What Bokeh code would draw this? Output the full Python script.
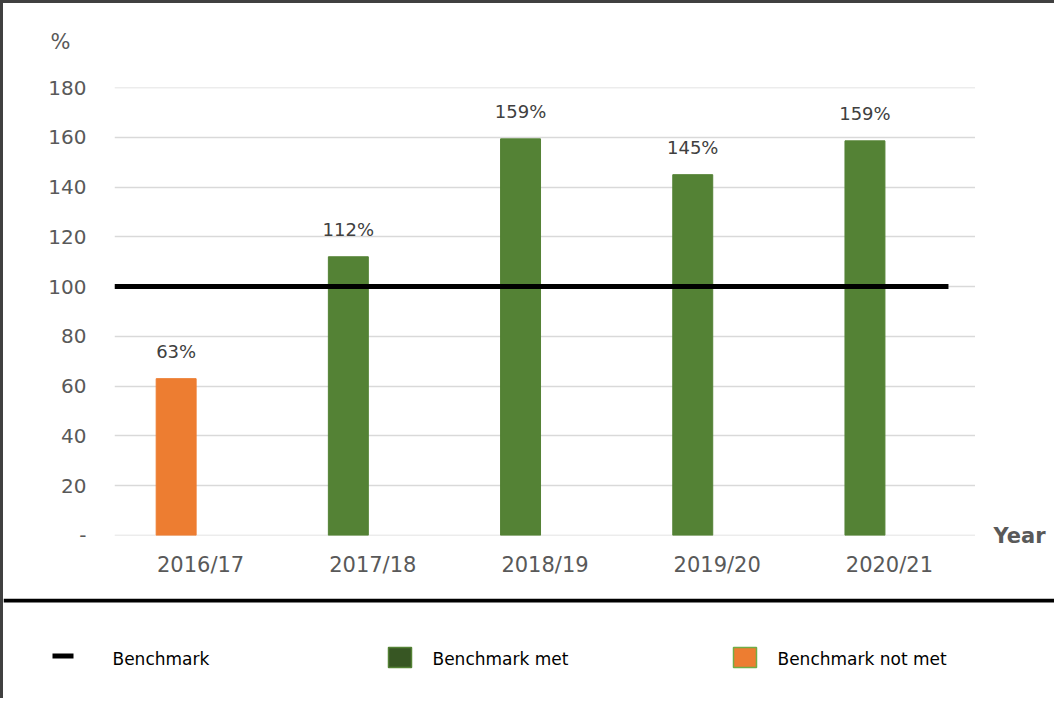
from bokeh.plotting import figure
from bokeh.layouts import column, row
from bokeh.models import (ColumnDataSource, Label, BoxAnnotation, FixedTicker,
                          Range1d, FactorRange)
from bokeh.transform import dodge
from bokeh.core.properties import value
from bokeh.embed import file_html
from bokeh.resources import INLINE

# ---- data ----
years = ["2016/17", "2017/18", "2018/19", "2019/20", "2020/21"]
values = [63, 112, 159.4, 145, 158.6]
benchmark = 100
y_ticks = [0, 20, 40, 60, 80, 100, 120, 140, 160, 180]
y_title = "%"
x_title = "Year"
legend_labels = ["Benchmark", "Benchmark met", "Benchmark not met"]

MET = "#548235"
NOT_MET = "#ED7D31"
FONT = "DejaVu Sans"
GREY = "#595959"
W = 1051          # total inner width (page 3 .. 1054)
PW = 972          # chart figure width (page 3 .. 975)

colors = [MET if v >= benchmark else NOT_MET for v in values]
labels = [f"{round(v)}%" for v in values]
src = ColumnDataSource(dict(year=years, value=values, color=colors, label=labels))


def strip(w, h):
    f = figure(width=w, height=h, x_range=Range1d(0, w), y_range=Range1d(h, 0),
               x_axis_type=None, y_axis_type=None, output_backend="svg",
               toolbar_location=None, min_border=0)
    f.frame_align = False
    f.outline_line_color = None
    f.xgrid.visible = False
    f.ygrid.visible = False
    f.background_fill_color = "white"
    f.border_fill_color = "white"
    return f


def label(f, x, y, text, **kw):
    f.add_layout(Label(x=x, y=y, x_units="canvas", y_units="canvas", text=text,
                       text_font=FONT, text_baseline="middle", **kw))


def box(f, l, t, r, b, **kw):
    f.add_layout(BoxAnnotation(left=l, right=r, top=t, bottom=b,
                               left_units="canvas", right_units="canvas",
                               top_units="canvas", bottom_units="canvas", **kw))


# ---------------- top strip with the "%" title ----------------
t = strip(W, 64)
label(t, 47, 38, y_title, text_font_size="21px", text_color=GREY)

# ---------------- chart ----------------
p = figure(x_range=FactorRange(*years), y_range=Range1d(-0.05, 180.05),
           width=PW, height=531, output_backend="svg", toolbar_location=None,
           min_border_left=111, min_border_right=0, min_border_top=20,
           min_border_bottom=63)
p.frame_align = False
p.outline_line_color = None
p.background_fill_color = "white"
p.border_fill_color = "white"

p.xgrid.grid_line_color = None
p.ygrid.ticker = FixedTicker(ticks=y_ticks)
p.ygrid.grid_line_color = "#d9d9d9"
p.ygrid.grid_line_width = 1.5

p.yaxis.ticker = FixedTicker(ticks=y_ticks)
p.yaxis.major_label_overrides = {0: "-"}
for ax in (p.xaxis, p.yaxis):
    ax.axis_line_color = None
    ax.major_tick_line_color = None
    ax.minor_tick_line_color = None
    ax.major_tick_out = 0
    ax.major_label_text_font = FONT
    ax.major_label_text_color = GREY
p.yaxis.major_label_text_font_size = "20px"
p.yaxis.major_label_standoff = 28
p.xaxis.major_label_text_font_size = "21px"
p.xaxis.major_label_standoff = 17

# bars
xb = dodge("year", -0.142, range=p.x_range)
p.vbar(x=xb, top="value", width=0.232, color="color", source=src)

# value labels
p.text(x=xb, y="value", text="label", source=src, text_align="center",
       text_baseline="bottom", y_offset=-17, text_font=value(FONT),
       text_font_size="18px", text_color="#404040")

# benchmark line
bsrc = ColumnDataSource(dict(x0=[years[0]], x1=[years[-1]], y=[benchmark]))
p.segment(x0=dodge("x0", -0.5, range=p.x_range), x1=dodge("x1", 0.343, range=p.x_range),
          y0="y", y1="y", source=bsrc, line_color="black", line_width=5)

# ---------------- right strip with the "Year" title ----------------
r = strip(W - PW, 531)
label(r, 18, 468, x_title, text_font_size="21px", text_font_style="bold",
      text_color=GREY)

# ---------------- legend strip ----------------
q = strip(W, 100)
box(q, 0, 0, W, 4, fill_color="black", fill_alpha=1, line_color=None)
box(q, 49, 55, 70, 60, fill_color="black", fill_alpha=1, line_color=None)
box(q, 385, 49, 408, 69, fill_color="#375623", fill_alpha=1, line_color=MET,
    line_width=1.5, line_alpha=1)
box(q, 730, 49, 753, 69, fill_color=NOT_MET, fill_alpha=1, line_color="#70AD47",
    line_width=1.5, line_alpha=1)
for lx, txt in zip([109, 429, 774], legend_labels):
    label(q, lx, 60, txt, text_font_size="17px", text_color="black")

layout = column(t, row(p, r, spacing=0), q, spacing=0,
                styles={"border-top": "3px solid #404040",
                        "border-left": "3px solid #404040"})

open("out.html", "w").write(file_html(layout, INLINE))
